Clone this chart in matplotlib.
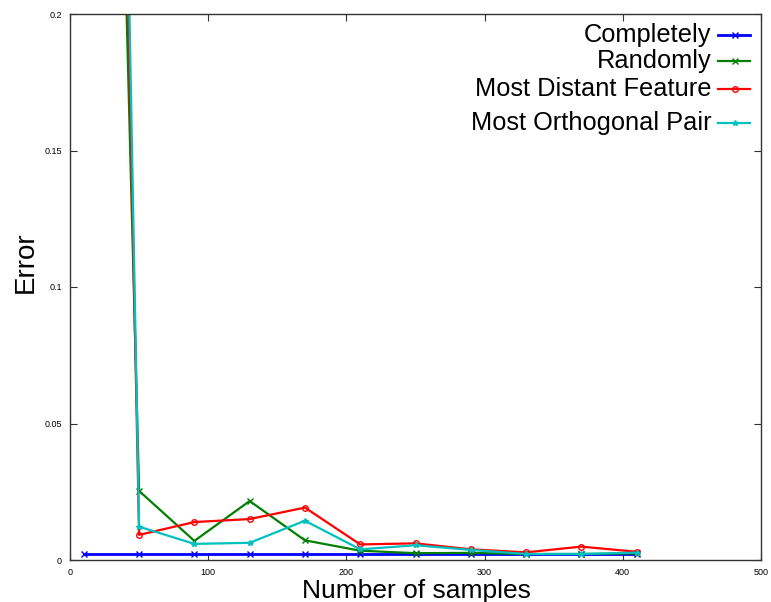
import matplotlib
matplotlib.use("Agg")
import matplotlib.pyplot as plt

plt.rcParams['font.family'] = ['Liberation Sans', 'DejaVu Sans']

# ---- data ----
samples = [10, 50, 90, 130, 170, 210, 250, 290, 330, 370, 410]
completely = [0.0022] * 11
randomly = [0.80, 0.0253, 0.0070, 0.0216, 0.0072, 0.0034, 0.0025, 0.0026, 0.0022, 0.0022, 0.0024]
most_distant = [1.00, 0.0092, 0.0139, 0.0150, 0.0192, 0.0057, 0.0061, 0.0039, 0.0028, 0.0049, 0.0030]
most_orthogonal = [1.09, 0.0122, 0.0059, 0.0063, 0.0144, 0.0039, 0.0054, 0.0037, 0.0022, 0.0022, 0.0027]

labels = ["Completely", "Randomly", "Most Distant Feature", "Most Orthogonal Pair"]
series = [completely, randomly, most_distant, most_orthogonal]
colors = ["#0000ff", "#008000", "#ff0000", "#00c0c0"]
markers = ["x", "x", "o", "*"]
widths = [2.0, 1.6, 1.6, 1.6]
xticks = [0, 100, 200, 300, 400, 500]
yticks = [0, 0.05, 0.1, 0.15, 0.2]

fig = plt.figure(figsize=(7.71, 6.02), dpi=100)
ax = fig.add_axes([70/771, 42/602, 691/771, 546/602])

for vals, c, m, w in zip(series, colors, markers, widths):
    ax.plot(samples, vals, color=c, lw=w, marker=m, ms=4,
            mfc='none' if m == 'o' else c, mew=1.0)

ax.set_xlim(0, 500)
ax.set_ylim(0, 0.2)
ax.set_xticks(xticks)
ax.set_xticklabels([str(v) for v in xticks])
ax.set_yticks(yticks)
ax.set_yticklabels(["0", "0.05", "0.1", "0.15", "0.2"])
ax.tick_params(direction='in', length=5, width=0.8, labelsize=6.5,
               top=True, right=True, colors='#333333', labelcolor='black')
ax.tick_params(axis='x', pad=6)
ax.tick_params(axis='y', pad=6)
for sp in ax.spines.values():
    sp.set_color('#333333')
    sp.set_linewidth(1.0)

ax.set_xlabel("Number of samples", fontsize=19)
ax.xaxis.set_label_coords(0.502, -0.034)
ax.xaxis.label.set_va('top')
ax.set_ylabel("Error", fontsize=20)
ax.yaxis.set_label_coords(-0.064, 0.546)
ax.yaxis.label.set_va('center')

# gnuplot-style key: text right-aligned, sample line to the right
key_y = [0.9621, 0.9139, 0.8621, 0.8009]
for lab, c, m, w, ky in zip(labels, colors, markers, widths, key_y):
    ax.text(0.9287, ky, lab, ha='right', va='center', fontsize=18.3,
            transform=ax.transAxes)
    ax.plot([0.9378, 0.9841], [ky, ky], color=c, lw=w,
            transform=ax.transAxes, clip_on=False)
    ax.plot([0.962], [ky], color=c, marker=m, ms=4,
            mfc='none' if m == 'o' else c, mew=1.0,
            transform=ax.transAxes, clip_on=False)

fig.savefig("out.png", dpi=100)
